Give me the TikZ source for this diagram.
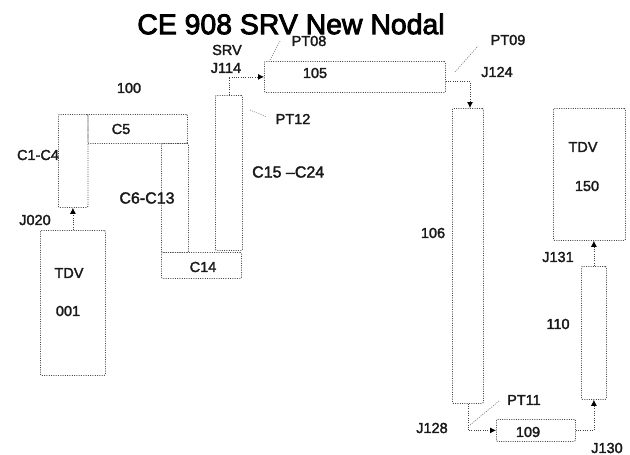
\documentclass[tikz,border=0pt]{standalone}
\usepackage{fontspec}
\setmainfont{Liberation Sans}
\newfontfamily\heavyfont[FakeBold=3]{Liberation Sans}
\newfontfamily\midfont[FakeBold=2]{Liberation Sans}
\usetikzlibrary{arrows.meta}
\tikzset{
  box/.style={draw=black!70, dash pattern=on 1pt off 1.3pt, line width=0.8pt, rounded corners=1pt, inner sep=0pt, anchor=north west},
  wire/.style={draw=black!75, dash pattern=on 1pt off 1.3pt, line width=0.8pt},
  flow/.style={wire, -{Latex[length=6pt,width=6pt,black]}},
  leader/.style={draw=black!50, dash pattern=on 1pt off 1.3pt, line width=0.7pt},
  lab/.style={font=\midfont\fontsize{14.5}{16}\selectfont, text=black!90, inner sep=0pt},
  wide/.style={lab, font=\midfont\fontsize{16}{18}\selectfont},
  ttl/.style={font=\heavyfont\fontsize{28.4}{30}\selectfont, text=black, inner sep=0pt}
}
\newcommand{\bx}[5]{\node[box, minimum width=#4pt-#2pt, minimum height=#5pt-#3pt] (#1) at (#2,#3) {};}
\begin{document}
\begin{tikzpicture}[x=1pt,y=-1pt]
\useasboundingbox (0,0) rectangle (630,455);
\bx{tdvA}{40}{230}{105}{375}
\bx{cA}{58}{114}{87.5}{207}
\bx{cB}{87.5}{114}{187}{143}
\bx{cC}{161}{143}{188}{252}
\bx{cD}{161}{252}{241}{278}
\bx{cE}{215}{95}{242}{250}
\bx{nA}{264}{61}{445}{92}
\bx{nB}{452}{108}{483}{403}
\bx{nC}{496}{419}{575}{441}
\bx{nD}{581}{266}{606}{399}
\bx{tdvB}{553}{108}{625}{240}
\draw[flow] (tdvA.north) -- (tdvA.north |- cA.south);
\draw[flow] (cE.north) |- (nA.west);
\coordinate (e1) at ([yshift=-4.5pt]nA.east);
\draw[flow] (e1) -| (nB.north -| 470,0);
\draw[flow] (nB.south) |- (nC.west);
\draw[flow] (nC.east) -| (nD.south);
\draw[flow] (nD.north) -- (nD.north |- tdvB.south);
\coordinate (p8a) at (270,60); \coordinate (p8b) at (280,41);
\coordinate (p9a) at (455,72); \coordinate (p9b) at (478,46);
\coordinate (p12a) at (250,110); \coordinate (p12b) at (267,117);
\coordinate (p11a) at (470,425); \coordinate (p11b) at (499,401);
\draw[leader] (p8a) -- (p8b);
\draw[leader] (p9a) -- (p9b);
\draw[leader] (p12a) -- (p12b);
\draw[leader] (p11a) -- (p11b);
\node[ttl] (title) at (291,24) {CE 908 SRV New Nodal};
\node[lab] (l100) at (129,88) {100};
\node[lab] (lc5) at (121,129) {C5};
\node[lab] (lc1) at (38,155) {C1-C4};
\node[wide] (lc6) at (147,198) {C6-C13};
\node[wide,anchor=west] (lc15) at (252,172) {C15 –C24};
\node[lab] (lc14) at (203,267) {C14};
\node[lab] (lj020) at (35,220) {J020};
\node[lab] (ltdv1) at (69,273) {TDV};
\node[lab] (l001) at (68,311) {001};
\node[lab] (lsrv) at (227,50) {SRV};
\node[lab] (lj114) at (226,68) {J114};
\node[lab] (lpt8) at (309,41) {PT08};
\node[lab] (l105) at (315,73) {105};
\node[lab] (lpt12) at (293,119) {PT12};
\node[lab] (lpt9) at (508,40) {PT09};
\node[lab] (lj124) at (497,72) {J124};
\node[lab] (l106) at (433,233) {106};
\node[lab] (ltdv2) at (583,147) {TDV};
\node[lab] (l150) at (587,186) {150};
\node[lab] (lj131) at (558,257) {J131};
\node[lab] (l110) at (558,324) {110};
\node[lab] (lpt11) at (524,400) {PT11};
\node[lab] (lj128) at (432,428) {J128};
\node[lab] (l109) at (528,432) {109};
\node[lab] (lj130) at (607,448) {J130};
\end{tikzpicture}
\end{document}
